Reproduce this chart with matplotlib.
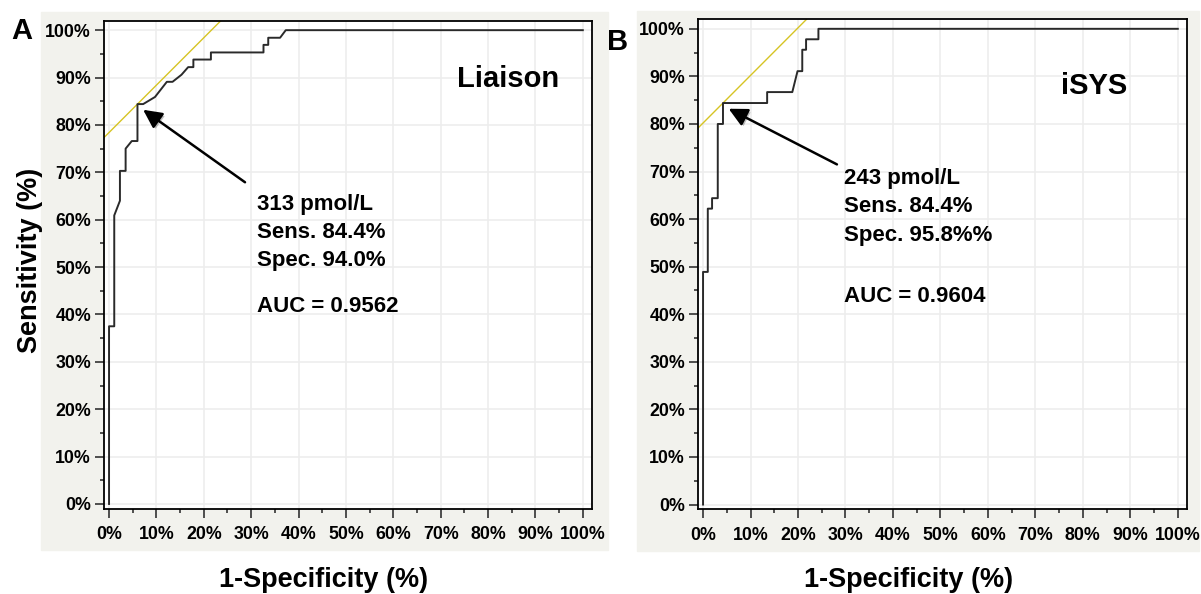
import matplotlib
matplotlib.use("Agg")
import matplotlib.pyplot as plt
from matplotlib.patches import Rectangle
from matplotlib.ticker import MultipleLocator, PercentFormatter
import matplotlib.patheffects as pe

plt.rcParams['font.family'] = ['Liberation Sans', 'DejaVu Sans']
plt.rcParams['font.weight'] = 'bold'

# ROC curve vertices, 1-specificity (%) vs sensitivity (%)
fpr_liaison = [0.0, 0.0, 1.1, 1.1, 2.3, 2.3, 3.5, 3.5, 4.8, 6.0, 6.0, 7.2, 9.7, 12.2,
               13.4, 15.3, 16.7, 17.8, 17.8, 21.5, 21.5, 32.6, 32.6, 33.6, 33.6, 36.1,
               37.3, 100.0]
tpr_liaison = [0.0, 37.5, 37.5, 60.9, 64.0, 70.3, 70.3, 75.0, 76.6, 76.6, 84.4, 84.4,
               85.9, 89.1, 89.1, 90.6, 92.2, 92.2, 93.8, 93.8, 95.3, 95.3, 96.9, 96.9,
               98.4, 98.4, 100.0, 100.0]

fpr_isys = [0.0, 0.0, 1.0, 1.0, 1.9, 1.9, 3.1, 3.1, 4.2, 4.2, 13.5, 13.5, 18.8, 19.9,
            20.9, 20.9, 21.7, 21.7, 24.3, 24.3, 100.0]
tpr_isys = [0.0, 48.9, 48.9, 62.2, 62.2, 64.4, 64.4, 80.0, 80.0, 84.4, 84.4, 86.7, 86.7,
            91.1, 91.1, 95.6, 95.6, 97.8, 97.8, 100.0, 100.0]

# optimal cut-off points (1-spec, sens)
cut_liaison = (6.0, 84.4)
cut_isys = (4.2, 84.4)

labels_liaison = ["313 pmol/L", "Sens. 84.4%", "Spec. 94.0%"]
labels_isys = ["243 pmol/L", "Sens. 84.4%", "Spec. 95.8%%"]
auc_liaison = "AUC = 0.9562"
auc_isys = "AUC = 0.9604"

BG = '#f2f2ed'
W, H = 1201, 594


def draw_roc(ax, fpr, tpr, cut, name, name_xy, lines, lines_xy, auc, auc_xy,
             arrow_tail):
    """Draw one ROC panel with the Youden line, arrow and annotations."""
    ax.set_facecolor('white')
    ax.set_xlim(-1, 102)
    ax.set_ylim(-1, 102)
    ax.xaxis.set_major_locator(MultipleLocator(10))
    ax.xaxis.set_minor_locator(MultipleLocator(5))
    ax.yaxis.set_major_locator(MultipleLocator(10))
    ax.yaxis.set_minor_locator(MultipleLocator(5))
    ax.xaxis.set_major_formatter(PercentFormatter(decimals=0))
    ax.yaxis.set_major_formatter(PercentFormatter(decimals=0))
    ax.grid(True, which='major', color='#ededed', lw=1.2, zorder=0)
    ax.set_axisbelow(True)
    ax.tick_params(which='major', length=6.5, width=1.1, labelsize=12.8, color='#222222')
    ax.tick_params(which='minor', length=3.2, width=1.1, color='#222222')
    ax.tick_params(axis='x', pad=6)
    ax.tick_params(axis='y', pad=3)
    for lab in ax.get_xticklabels() + ax.get_yticklabels():
        lab.set_fontweight('bold')
    for sp in ax.spines.values():
        sp.set_linewidth(1.3)
        sp.set_color('black')

    # line of equal Youden index through the cut-off
    ax.axline((0, cut[1] - cut[0]), slope=1, color='#d6c424', lw=1.0, zorder=2)
    ax.plot(fpr, tpr, color='#2a2a2a', lw=1.4, zorder=3)

    ann = ax.annotate('', xy=(cut[0] + 1.2, cut[1] - 1.2), xytext=arrow_tail,
                      arrowprops=dict(arrowstyle='-|>', color='black', lw=1.8,
                                      mutation_scale=28, shrinkA=0, shrinkB=0))
    ann.arrow_patch.set_path_effects([pe.SimplePatchShadow(offset=(1.5, -1.5),
                                                           alpha=0.25),
                                      pe.Normal()])

    ax.text(name_xy[0], name_xy[1], name, fontsize=21, fontweight='bold',
            ha='left', va='baseline')
    for i, line in enumerate(lines):
        ax.text(lines_xy[0], lines_xy[1] - i * 5.9, line, fontsize=16,
                fontweight='bold', ha='left', va='baseline')
    ax.text(auc_xy[0], auc_xy[1], auc, fontsize=16, fontweight='bold',
            ha='left', va='baseline')


fig = plt.figure(figsize=(W / 100, H / 100), dpi=100)

# light panel backgrounds
fig.patches.append(Rectangle((41 / W, 1 - 550 / H), 567 / W, 538 / H,
                             transform=fig.transFigure, color=BG, zorder=-5))
fig.patches.append(Rectangle((637 / W, 1 - 551 / H), 562 / W, 540 / H,
                             transform=fig.transFigure, color=BG, zorder=-5))

ax1 = fig.add_axes([104.3 / W, 1 - 508.7 / H, 488 / W, 488 / H])
ax2 = fig.add_axes([698.3 / W, 1 - 509.3 / H, 489 / W, 490 / H])

draw_roc(ax1, fpr_liaison, tpr_liaison, cut_liaison, "Liaison", (73.4, 88.1),
         labels_liaison, (31.2, 62.1), auc_liaison, (31.2, 40.6), (28.7, 67.9))
draw_roc(ax2, fpr_isys, tpr_isys, cut_isys, "iSYS", (75.4, 86.2),
         labels_isys, (29.6, 67.3), auc_isys, (29.6, 42.5), (28.2, 71.5))

fig.text(11 / W, 1 - 39 / H, "A", fontsize=21, fontweight='bold', ha='left', va='baseline')
fig.text(607 / W, 1 - 50 / H, "B", fontsize=21, fontweight='bold', ha='left', va='baseline')
fig.text(324 / W, 1 - 587 / H, "1-Specificity (%)", fontsize=19.5, fontweight='bold',
         ha='center', va='baseline')
fig.text(909 / W, 1 - 587 / H, "1-Specificity (%)", fontsize=19.5, fontweight='bold',
         ha='center', va='baseline')
fig.text(30 / W, 1 - 260 / H, "Sensitivity (%)", fontsize=19.5, fontweight='bold',
         ha='center', va='center', rotation=90)

fig.savefig("out.png", dpi=100, facecolor='white')
